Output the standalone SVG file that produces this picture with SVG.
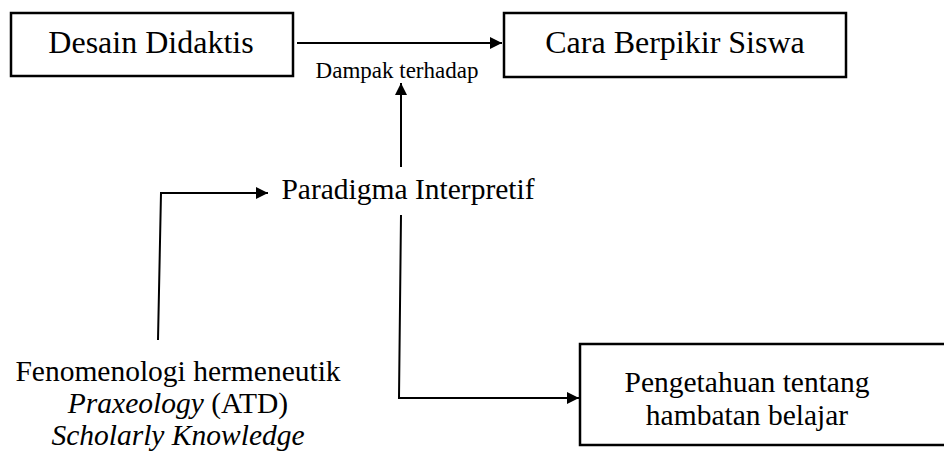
<svg xmlns="http://www.w3.org/2000/svg" width="944" height="452" viewBox="0 0 944 452">
<defs>
<style>
.box{fill:#fff;stroke:#000;stroke-width:2.5}
.t{font-family:"Liberation Serif","Times New Roman",serif;fill:#000;text-anchor:middle}
.big{font-size:32px}
.mid{font-size:29.5px}
.small{font-size:23px}
.ln{fill:none;stroke:#000;stroke-width:2}
</style>
<marker id="ah" viewBox="0 0 10 10" refX="10" refY="5" markerWidth="16" markerHeight="12" markerUnits="userSpaceOnUse" orient="auto">
<path d="M0,0 L10,5 L0,10 Z" fill="#000"/>
</marker>
</defs>
<g id="desain-didaktis">
<rect class="box" x="11" y="13" width="282" height="63"/>
<text class="t big" x="151" y="53">Desain Didaktis</text>
</g>
<g id="cara-berpikir-siswa">
<rect class="box" x="504" y="13" width="342" height="64"/>
<text class="t big" x="675" y="53">Cara Berpikir Siswa</text>
</g>
<g id="paradigma-interpretif">
<text class="t mid" x="408" y="199">Paradigma Interpretif</text>
</g>
<g id="fenomenologi">
<text class="t mid" x="178" y="381">Fenomenologi hermeneutik</text>
<text class="t mid" x="178" y="413"><tspan font-style="italic">Praxeology</tspan> (ATD)</text>
<text class="t mid" x="178" y="445" font-style="italic">Scholarly Knowledge</text>
</g>
<g id="pengetahuan">
<rect class="box" x="580" y="344" width="370" height="101"/>
<text class="t mid" x="747" y="392">Pengetahuan tentang</text>
<text class="t mid" x="747" y="425">hambatan belajar</text>
</g>
<g id="connectors">
<line class="ln" x1="297" y1="43" x2="502" y2="43" marker-end="url(#ah)"/>
<text class="t small" x="397" y="78">Dampak terhadap</text>
<line class="ln" x1="401" y1="167" x2="401" y2="83" marker-end="url(#ah)"/>
<polyline class="ln" points="158,340 161,193 268,193" marker-end="url(#ah)"/>
<polyline class="ln" points="401,215 399,398 579,398" marker-end="url(#ah)"/>
</g>
</svg>
